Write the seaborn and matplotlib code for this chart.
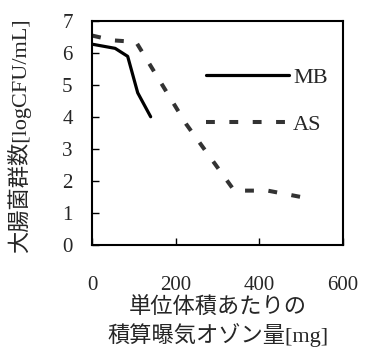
import numpy as np
import pandas as pd
import matplotlib

matplotlib.use("Agg")
import matplotlib.pyplot as plt
import seaborn as sns

mb_x = [0, 55, 85, 109, 140]
mb_y = [6.28, 6.15, 5.9, 4.76, 4.01]
as_x = [0, 50, 105, 225, 340, 420, 520]
as_y = [6.55, 6.4, 6.35, 3.78, 1.7, 1.7, 1.45]

x_ticks = [0, 200, 400, 600]
y_ticks = list(range(0, 8))
x_label = "単位体積あたりの\n積算曝気オゾン量[mg]"
y_label = "大腸菌群数[logCFU/mL]"

sns.set_style("ticks")
plt.rcParams["font.family"] = ["Liberation Serif", "Noto Sans CJK JP"]

df = pd.concat([
    pd.DataFrame({"x": mb_x, "y": mb_y, "series": "MB"}),
    pd.DataFrame({"x": as_x, "y": as_y, "series": "AS"}),
])

fig = plt.figure(figsize=(3.7, 3.47), dpi=100)
ax = fig.add_axes([0.249, 0.294, 0.678, 0.645])

sns.lineplot(data=df[df.series == "MB"], x="x", y="y", color="black",
             lw=2.3, label="MB", ax=ax, sort=False)
sns.lineplot(data=df[df.series == "AS"], x="x", y="y", color="#333333",
             lw=2.9, label="AS", ax=ax, sort=False)
ax.lines[1].set_dashes([2.2, 3.6])

ax.set_xlim(0, 600)
ax.set_ylim(0, 7)
ax.set_xticks(x_ticks)
ax.set_yticks(y_ticks)
ax.tick_params(direction="in", length=5, width=1, labelsize=15, color="black")
ax.tick_params(axis="x", pad=22)
ax.tick_params(axis="y", pad=14)
for s in ax.spines.values():
    s.set_linewidth(1.5)
    s.set_color("black")

ax.set_xlabel(x_label, fontsize=16, linespacing=1.25)
ax.set_ylabel(y_label, fontsize=16)
ax.xaxis.set_label_coords(0.5, -0.235)
ax.xaxis.label.set_va("top")
ax.yaxis.set_label_coords(-0.29, 0.49)
ax.yaxis.label.set_va("center")

leg = ax.legend(loc="upper left", bbox_to_anchor=(0.42, 0.835), frameon=False,
                fontsize=16, handlelength=3.7, handletextpad=0.2,
                labelspacing=1.2, borderaxespad=0)

plt.savefig("out.png", dpi=100)
plt.close()
